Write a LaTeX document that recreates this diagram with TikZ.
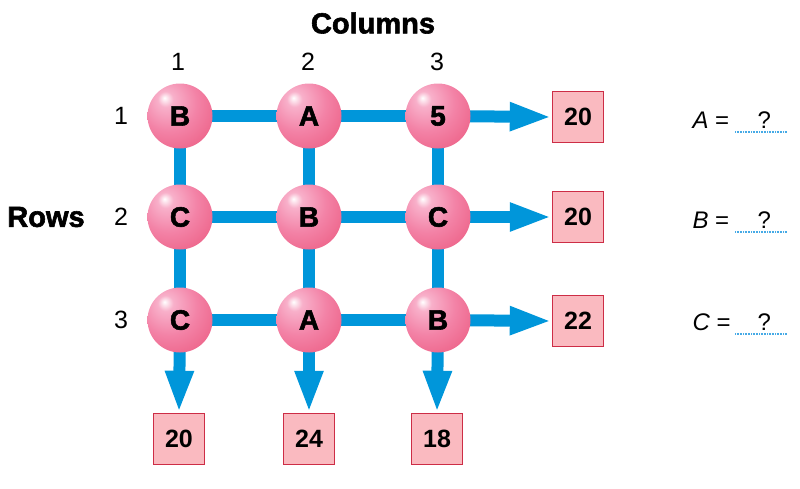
\documentclass[tikz,border=0pt]{standalone}
\usepackage{fontspec}
\setmainfont{Liberation Sans}
\newfontfamily\heavyfont[FakeBold=2]{Liberation Sans Bold}
\usetikzlibrary{arrows.meta}

\definecolor{barblue}{RGB}{0,150,218}
\definecolor{boxfill}{RGB}{250,186,192}
\definecolor{boxline}{RGB}{205,45,70}
\definecolor{ballA}{RGB}{255,255,255}
\definecolor{ballB}{RGB}{248,176,202}
\definecolor{ballC}{RGB}{243,130,166}
\definecolor{ballD}{RGB}{235,88,126}
\definecolor{ballE}{RGB}{245,136,170}
\definecolor{dotblue}{RGB}{70,170,230}

\pgfdeclareradialshading{pinkball}{\pgfpoint{-12bp}{14bp}}{%
  color(0bp)=(ballA); color(6bp)=(ballB); color(22bp)=(ballC);
  color(44bp)=(ballD); color(60bp)=(ballE); color(80bp)=(ballE)}

\tikzset{
  ball/.style={circle, minimum size=65pt, inner sep=0pt, shading=pinkball,
    font=\fontsize{28}{28}\heavyfont},
  result/.style={draw=boxline, line width=1.4pt, fill=boxfill,
    minimum size=51pt, inner sep=0pt, font=\fontsize{25}{25}\selectfont\bfseries},
  bar/.style={draw=barblue, line width=12pt},
  arrowbar/.style={bar, -{Triangle[length=42pt, width=26pt]}},
  index/.style={font=\fontsize{25}{25}\selectfont},
  heading/.style={font=\fontsize{29}{29}\heavyfont},
  answer/.style={font=\fontsize{24}{24}\selectfont, anchor=base west},
  blank/.style={draw=dotblue, line width=1.2pt, dash pattern=on 1pt off 0.6pt}
}

\begin{document}
\begin{tikzpicture}[x=1pt, y=-1pt]
\useasboundingbox (0,0) rectangle (800,488);

% grid of balls
\foreach \r/\y in {1/116, 2/217, 3/320} {
  \foreach \c/\x in {1/180, 2/309, 3/438} {
    \coordinate (p\r\c) at (\x,\y);
  }
}

% result boxes
\node[result] (rb1) at (578,117) {20};
\node[result] (rb2) at (578,217) {20};
\node[result] (rb3) at (578,321) {22};
\node[result] (cb1) at (179,439) {20};
\node[result] (cb2) at (309,439) {24};
\node[result] (cb3) at (437,439) {18};

% connecting bars behind the balls
\foreach \r in {1,2,3} {
  \draw[bar] (p\r1) -- (p\r3);
  \draw[arrowbar] (p\r3) -- (rb\r.west);
}
\foreach \c in {1,2,3} {
  \draw[bar] (p1\c) -- (p3\c);
  \draw[arrowbar] (p3\c) -- (cb\c.north);
}

% balls
\node[ball] (b11) at (p11) {B};
\node[ball] (b12) at (p12) {A};
\node[ball] (b13) at (p13) {5};
\node[ball] (b21) at (p21) {C};
\node[ball] (b22) at (p22) {B};
\node[ball] (b23) at (p23) {C};
\node[ball] (b31) at (p31) {C};
\node[ball] (b32) at (p32) {A};
\node[ball] (b33) at (p33) {B};

% headings and indices
\node[heading] (colh) at (373,23) {Columns};
\node[heading] (rowh) at (46,217) {Rows};
\node[index] (c1) at (178,62) {1};
\node[index] (c2) at (308,62) {2};
\node[index] (c3) at (437,62) {3};
\node[index] (r1) at (121,116) {1};
\node[index] (r2) at (121,217) {2};
\node[index] (r3) at (121,320) {3};

% equations to solve
\foreach \v/\y in {A/128, B/228, C/330} {
  \node[answer] (eq\v) at (689,\y) {\itshape \v\upshape\ =};
  \node[answer] (q\v) at (754,\y) {?};
  \draw[blank] (735,\y+4) -- (787,\y+4);
}
\end{tikzpicture}
\end{document}
